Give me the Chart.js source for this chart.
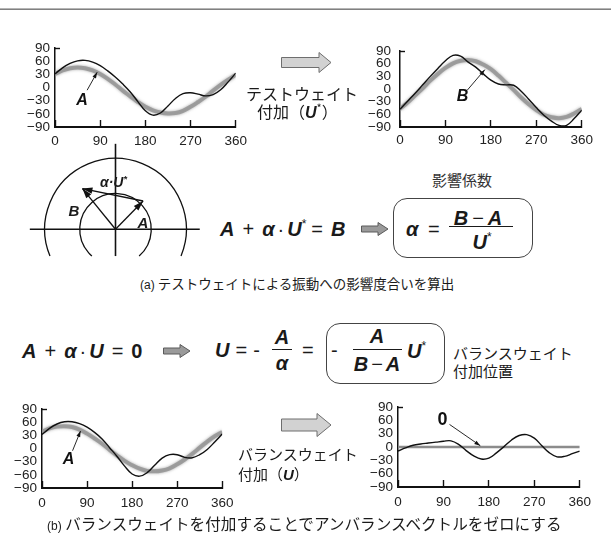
<!DOCTYPE html>
<html>
<head>
<meta charset="utf-8">
<script src="https://cdn.jsdelivr.net/npm/chart.js@4.4.1/dist/chart.umd.min.js"></script>
<style>
  body { margin: 0; background: #fff; }
  #page { position: relative; width: 611px; height: 539px; overflow: hidden; font-family: "Liberation Sans", Arial, sans-serif; color: #1a1a1a; }
  canvas { position: absolute; }
  .t { position: absolute; white-space: nowrap; line-height: 1; transform: translateY(-50%); }
  .c { transform: translate(-50%, -50%); }
  .jp { font-family: "Noto Sans CJK JP", sans-serif; font-size: 15px; }
  .eq { font-size: 20px; }
  .eq b, .v { font-weight: bold; font-style: italic; font-family: "Liberation Sans", Arial, sans-serif; }
  .o { margin: 0 8px; }
  .d { margin: 0 3px; }
  .n { margin: 0 4px; }
  .s { font-size: 12px; position: relative; top: -8px; }
  .bar { position: absolute; height: 1.6px; background: #1a1a1a; }
  .box { position: absolute; border: 1px solid #444; border-radius: 14px; }
  .rule { position: absolute; left: 0; top: 8px; width: 611px; height: 1px; background: #b5b5b5; border-bottom: 1px solid #808080; }
  svg { position: absolute; overflow: visible; }
  .sm { font-family: "Liberation Sans", Arial, sans-serif; font-size: 12px; }
</style>
</head>
<body>
<div id="page">
  <div class="rule"></div>

  <canvas id="c1" width="260" height="122" style="left:0;top:30px"></canvas>
  <canvas id="c2" width="250" height="122" style="left:355px;top:29px"></canvas>
  <canvas id="c3" width="248" height="122" style="left:0;top:391px"></canvas>
  <canvas id="c4" width="252" height="122" style="left:353px;top:389px"></canvas>
  <canvas id="c5" width="177" height="120" style="left:27px;top:141px"></canvas>

  <!-- test weight step -->
  <svg style="left:281px;top:52px" width="51" height="21"><polygon points="0.5,5.5 38,5.5 38,0.5 50,10.5 38,20.5 38,15.5 0.5,15.5" fill="#d2d2d2" stroke="#6e6e6e"/></svg>
  <div class="t jp" style="left:246px;top:93px;font-size:16px">テストウェイト</div>
  <div class="t jp" style="left:257px;top:112px;font-size:16px">付加（<span class="v">U</span><span class="s" style="top:-6px;font-size:11px">*</span>）</div>

  <!-- phasor labels -->
  <div class="t c v" style="left:74px;top:210px;font-size:15px">B</div>
  <div class="t c v" style="left:143px;top:222px;font-size:15px">A</div>
  <div class="t v" style="left:100px;top:182px;font-size:14px">α·U<span class="s" style="font-size:9px;top:-5px">*</span></div>

  <!-- influence coefficient -->
  <div class="t jp" style="left:432px;top:179px;color:#333">影響係数</div>
  <div class="t eq" style="left:220px;top:229px"><b>A</b><span class="o">+</span><b>α</b><span class="d">·</span><b>U</b><span class="s">*</span><span class="o" style="margin-left:5px">=</span><b>B</b></div>
  <svg style="left:361px;top:222px" width="28" height="14"><polygon points="0.5,4 17,4 17,0.5 27,7 17,13.5 17,10 0.5,10" fill="#9a9a9a" stroke="#5a5a5a"/></svg>
  <div class="box" style="left:393px;top:198px;width:138px;height:58px"></div>
  <div class="t eq" style="left:406px;top:229px"><b>α</b><span class="n">&nbsp;=</span></div>
  <div class="t eq c" style="left:478px;top:218px"><b>B</b><span class="n">−</span><b>A</b></div>
  <div class="bar" style="left:449px;top:225.5px;width:64px"></div>
  <div class="t eq c" style="left:482px;top:242px"><b>U</b><span class="s">*</span></div>

  <div class="t jp" style="left:140px;top:284px;font-size:13.5px"><span class="sm">(a)</span> テストウェイトによる振動への影響度合いを算出</div>

  <!-- balance weight equation -->
  <div class="t eq" style="left:22px;top:351px"><b>A</b><span class="o">+</span><b>α</b><span class="d">·</span><b>U</b><span class="o">=</span><span style="font-weight:bold">0</span></div>
  <svg style="left:163px;top:344px" width="28" height="14"><polygon points="0.5,4 17,4 17,0.5 27,7 17,13.5 17,10 0.5,10" fill="#9a9a9a" stroke="#5a5a5a"/></svg>
  <div class="t eq" style="left:215px;top:350px"><b>U</b><span style="margin:0 6px">=</span>-</div>
  <div class="t eq c" style="left:282px;top:337px"><b>A</b></div>
  <div class="bar" style="left:272px;top:348.5px;width:20px"></div>
  <div class="t eq c" style="left:282px;top:363px"><b>α</b></div>
  <div class="t eq" style="left:302px;top:350px">=</div>
  <div class="box" style="left:326px;top:323px;width:117px;height:59px"></div>
  <div class="t eq" style="left:331px;top:350px">-</div>
  <div class="t eq c" style="left:377px;top:336px"><b>A</b></div>
  <div class="bar" style="left:353px;top:348.5px;width:49px"></div>
  <div class="t eq c" style="left:377px;top:364px"><b>B</b><span class="d">−</span><b>A</b></div>
  <div class="t eq" style="left:407px;top:351px"><b>U</b><span class="s">*</span></div>
  <div class="t jp" style="left:453px;top:352px">バランスウェイト</div>
  <div class="t jp" style="left:453px;top:370px">付加位置</div>

  <!-- balance weight step -->
  <svg style="left:281px;top:413px" width="51" height="24"><polygon points="0.5,6 36,6 36,0.5 50,12 36,23.5 36,18 0.5,18" fill="#d2d2d2" stroke="#6e6e6e"/></svg>
  <div class="t jp" style="left:238px;top:453px">バランスウェイト</div>
  <div class="t jp" style="left:238px;top:474px">付加（<span class="v">U</span>）</div>

  <div class="t jp" style="left:47px;top:524px;font-size:15.6px"><span class="sm">(b)</span> バランスウェイトを付加することでアンバランスベクトルをゼロにする</div>
</div>

<script>
// rotation angle (deg) and vibration values
const angles = [0, 15, 30, 45, 60, 75, 90, 105, 120, 135, 150, 165, 180, 195, 210, 225, 240, 255, 270, 285, 300, 315, 330, 345, 360];
const initialVib = [31, 45, 55, 61, 62, 58, 50, 38, 24, 8, -10, -32, -53, -63, -58, -42, -25, -14, -12, -15, -19, -16, -5, 13, 33];
const initialFit = [31, 39, 44, 46, 44, 39, 31, 20, 7, -7, -20, -33, -44, -52, -57, -59, -58, -53, -44, -33, -21, -7, 6, 18, 29];
const testVib = [-48, -29, -10, 10, 30, 49, 67, 80, 78, 64, 52, 36, 21, 12, 10, 9, -5, -24, -44, -62, -76, -86, -86, -70, -50];
const testFit = [-47, -32, -15, 2, 20, 36, 50, 61, 67, 69, 66, 58, 47, 32, 15, -2, -20, -36, -50, -61, -67, -69, -66, -58, -47];
const beforeVib = [32, 46, 56, 61, 61, 57, 49, 37, 22, 2, -18, -40, -58, -63, -55, -38, -22, -14, -14, -20, -21, -14, -2, 15, 33];
const beforeFit = [38, 46, 50, 51, 49, 43, 34, 23, 11, -3, -16, -28, -38, -46, -51, -52, -50, -45, -36, -25, -12, 2, 16, 28, 38];
const afterVib = [-9, -2, 4, 7, 9, 11, 13, 14, 6, -8, -20, -27, -25, -13, 1, 16, 26, 28, 20, 3, -13, -22, -21, -15, -9];
const afterFit = [0, 0, 0, 0, 0, 0, 0, 0, 0, 0, 0, 0, 0, 0, 0, 0, 0, 0, 0, 0, 0, 0, 0, 0, 0];
const xTicks = [0, 90, 180, 270, 360];
const yTicks = [-90, -60, -30, 0, 30, 60, 90];

// phasor diagram (outer circle radius = 1)
const vecA = [0.39, 0.40];
const vecB = [-0.467, 0.576];
const rings = [1, 0.505];
const hAxis = [[-1.21, 0], [1.19, 0]];
const vAxis = [[0, -0.38], [0, 1.21]];

function arrowHead(ctx, x1, y1, x2, y2, len, wid) {
  const a = Math.atan2(y2 - y1, x2 - x1);
  const bx = x2 - len * Math.cos(a), by = y2 - len * Math.sin(a);
  ctx.beginPath();
  ctx.moveTo(x2, y2);
  ctx.lineTo(bx + wid * Math.sin(a), by - wid * Math.cos(a));
  ctx.lineTo(bx - wid * Math.sin(a), by + wid * Math.cos(a));
  ctx.closePath();
  ctx.fill();
}

// blurry gray trace
const softPlugin = {
  id: 'soft',
  beforeDatasetDraw(chart, args) {
    if (!chart.data.datasets[args.index].soft) return;
    chart.ctx.save();
    chart.ctx.shadowColor = 'rgba(140,140,140,0.9)';
    chart.ctx.shadowBlur = 3;
  },
  afterDatasetDraw(chart, args) {
    if (chart.data.datasets[args.index].soft) chart.ctx.restore();
  }
};

// letter + pointer arrow inside a wave chart
const notePlugin = {
  id: 'note',
  afterDatasetsDraw(chart, args, opts) {
    if (!opts.text) return;
    const { ctx, scales: { x, y } } = chart;
    const px = p => [x.getPixelForValue(p[0]), y.getPixelForValue(p[1])];
    const [fx, fy] = px(opts.from), [tx, ty] = px(opts.to), [lx, ly] = px(opts.at);
    ctx.save();
    ctx.strokeStyle = '#111';
    ctx.fillStyle = '#111';
    ctx.lineWidth = 0.9;
    ctx.beginPath();
    ctx.moveTo(fx, fy);
    ctx.lineTo(tx, ty);
    ctx.stroke();
    arrowHead(ctx, fx, fy, tx, ty, 6, 2);
    ctx.font = opts.font || 'italic bold 16px "Liberation Sans"';
    ctx.textAlign = 'center';
    ctx.textBaseline = 'middle';
    ctx.fillText(opts.text, lx, ly);
    ctx.restore();
  }
};

const tickFont = { family: 'Liberation Sans', size: 13.5 };

function waveChart(id, vib, fit, cfg) {
  return new Chart(document.getElementById(id), {
    type: 'line',
    data: {
      datasets: [
        { data: angles.map((a, i) => ({ x: a, y: vib[i] })), borderColor: '#111', borderWidth: 1.4, pointRadius: 0, tension: 0.4 },
        {
          data: angles.map((a, i) => ({ x: a, y: fit[i] })),
          borderColor: cfg.flat ? '#8c8c8c' : 'rgba(150,150,150,0.85)',
          borderWidth: cfg.flat ? 2.5 : 4, pointRadius: 0, tension: 0.4, soft: !cfg.flat
        }
      ]
    },
    options: {
      responsive: false,
      animation: false,
      devicePixelRatio: 1,
      layout: { padding: { left: 0, top: 12, right: 15, bottom: cfg.pb } },
      plugins: { legend: { display: false }, tooltip: { enabled: false }, note: cfg.note },
      scales: {
        x: {
          type: 'linear', min: 0, max: 360,
          afterBuildTicks: s => { s.ticks = xTicks.map(v => ({ value: v })); },
          afterFit: s => { s.height = 20; },
          ticks: { padding: cfg.xp, color: '#222', font: tickFont, maxRotation: 0, autoSkip: false },
          grid: { drawOnChartArea: false, tickLength: -7, tickColor: '#111', tickWidth: 1.4 },
          border: { color: '#111', width: 2 }
        },
        y: {
          min: -90, max: 90,
          afterBuildTicks: s => { s.ticks = yTicks.map(v => ({ value: v })); },
          afterFit: s => { s.width = cfg.yw; },
          ticks: { padding: cfg.yp, color: '#222', font: tickFont, autoSkip: false, callback: v => String(v).replace('-', '\u2212') },
          grid: {
            drawOnChartArea: false, tickLength: -5, tickWidth: 1.4,
            tickColor: c => (c.tick && c.tick.value === 90 ? '#111' : 'rgba(0,0,0,0)')
          },
          border: { color: '#111', width: 1.5 }
        }
      }
    },
    plugins: [softPlugin, notePlugin]
  });
}

waveChart('c1', initialVib, initialFit, { yw: 55, yp: 10, xp: 13, pb: 5,
  note: { text: 'A', at: [54, -30], from: [64, -6], to: [84, 35] } });
waveChart('c2', testVib, testFit, { yw: 45, yp: 14, xp: 12, pb: 4,
  note: { text: 'B', at: [124, -17], from: [133, -3], to: [168, 46] } });
waveChart('c3', beforeVib, beforeFit, { yw: 42, yp: 10, xp: 14.5, pb: 5,
  note: { text: 'A', at: [53, -26], from: [61, -5], to: [77, 40] } });
waveChart('c4', afterVib, afterFit, { yw: 45, yp: 10, xp: 14, pb: 4, flat: true,
  note: { text: '0', at: [88, 60], from: [102, 51], to: [163, 3], font: 'bold 18px "Liberation Sans"' } });

// phasor: circles and arrow heads
const phasorPlugin = {
  id: 'phasor',
  afterDatasetsDraw(chart, args, opts) {
    const { ctx, scales: { x, y } } = chart;
    const cx = x.getPixelForValue(0), cy = y.getPixelForValue(0);
    const cut = y.getPixelForValue(opts.cut) - cy;
    ctx.save();
    ctx.strokeStyle = '#111';
    ctx.fillStyle = '#111';
    ctx.lineWidth = 1.3;
    opts.rings.forEach(r => {
      const rp = x.getPixelForValue(r) - cx;
      const a = Math.asin(Math.min(cut / rp, 1));
      ctx.beginPath();
      ctx.arc(cx, cy, rp, a, Math.PI - a, true);
      ctx.stroke();
    });
    chart.data.datasets.forEach(ds => {
      if (!ds.arrow) return;
      const p = ds.data;
      arrowHead(ctx, x.getPixelForValue(p[0].x), y.getPixelForValue(p[0].y),
        x.getPixelForValue(p[1].x), y.getPixelForValue(p[1].y), 10, 3.2);
    });
    ctx.restore();
  }
};

const seg = (pts, w, arrow) => ({
  data: pts.map(p => ({ x: p[0], y: p[1] })),
  borderColor: '#111', borderWidth: w, pointRadius: 0, tension: 0, clip: false, arrow
});

new Chart(document.getElementById('c5'), {
  type: 'line',
  data: {
    datasets: [
      seg(hAxis, 1.6), seg(vAxis, 1.6),
      seg([[0, 0], vecA], 1.3, true),
      seg([[0, 0], vecB], 1.3, true),
      seg([vecA, vecB], 1.3, true)
    ]
  },
  options: {
    responsive: false,
    animation: false,
    devicePixelRatio: 1,
    layout: { padding: 0 },
    plugins: { legend: { display: false }, tooltip: { enabled: false }, phasor: { rings: rings, cut: vAxis[0][1] } },
    scales: {
      x: { type: 'linear', display: false, min: -1.25, max: 1.25 },
      y: { display: false, min: -0.45, max: 1.25 }
    }
  },
  plugins: [phasorPlugin]
});
</script>
</body>
</html>
